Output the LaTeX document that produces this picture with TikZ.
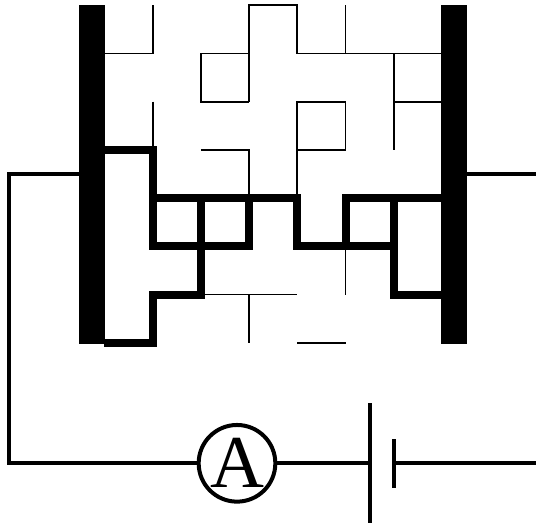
\documentclass[tikz,border=0pt]{standalone}
\usepackage{fontspec}
\setmainfont{Liberation Serif}
\usetikzlibrary{positioning}

\tikzset{
	thin wall/.style={line width=1.3pt},
	thick wall/.style={line width=6pt,line cap=rect},
	wire/.style={line width=3pt},
	bar/.style={fill=black,inner sep=0pt,minimum width=19.5pt,minimum height=254.5pt},
	plate/.style={fill=black,inner sep=0pt,minimum width=3pt},
	meter/.style={draw,circle,line width=3pt,inner sep=0pt,minimum size=57.5pt,font=\fontsize{56}{56}\selectfont}
}

\begin{document}
\begin{tikzpicture}[x=0.75pt,y=-0.75pt]
	\useasboundingbox (0,0) rectangle (536,522);

	\node[bar] (barleft) at (92.3,174.3) {};
	\node[bar] (barright) at (454,174.3) {};

	\begin{scope}[shift={(104.5,5.3)},x=36.15pt,y=-36.15pt]
		% thin walls
		\draw[thin wall] (0,1) -- (1,1) -- (1,0);
		\draw[thin wall] (3,1) -- (2,1) -- (2,2) -- (3,2);
		\draw[thin wall] (3,2) -- (3,0) -- (4,0) -- (4,1) -- (7,1);
		\draw[thin wall] (5,0) -- (5,1);
		\draw[thin wall] (6,1) -- (6,3);
		\draw[thin wall] (6,2) -- (7,2);
		\draw[thin wall] (1,2) -- (1,3);
		\draw[thin wall] (4,4) -- (4,2) -- (5,2) -- (5,3) -- (4,3);
		\draw[thin wall] (2,3) -- (3,3) -- (3,4);
		\draw[thin wall] (2,6) -- (4,6);
		\draw[thin wall] (3,6) -- (3,7);
		\draw[thin wall] (5,5) -- (5,6);
		\draw[thin wall] (4,7) -- (5,7);

		% thick path
		\draw[thick wall] (0,3) -- (1,3) -- (1,5) -- (3,5) -- (3,4);
		\draw[thick wall] (1,4) -- (4,4) -- (4,5) -- (6,5);
		\draw[thick wall] (5,5) -- (5,4) -- (7,4);
		\draw[thick wall] (6,4) -- (6,6) -- (7,6);
		\draw[thick wall] (2,4) -- (2,6) -- (1,6) -- (1,7) -- (0.08,7);
	\end{scope}

	% circuit
	\node[meter] (ammeter) at (237,463.3) {A};
	\node[plate,minimum height=90pt] (platelong) at (369.8,463.3) {};
	\node[plate,minimum height=36.3pt] (plateshort) at (393.8,463.3) {};
	\coordinate (cornerleft) at (8.5,463.3);
	\coordinate (endright) at (536,174.3);
	\coordinate (endbottom) at (536,463.3);

	\draw[wire] (barleft.west) -| (cornerleft) -- (ammeter);
	\draw[wire] (ammeter) -- (platelong);
	\draw[wire] (plateshort) -- (endbottom);
	\draw[wire] (barright.east) -- (endright);
\end{tikzpicture}
\end{document}
